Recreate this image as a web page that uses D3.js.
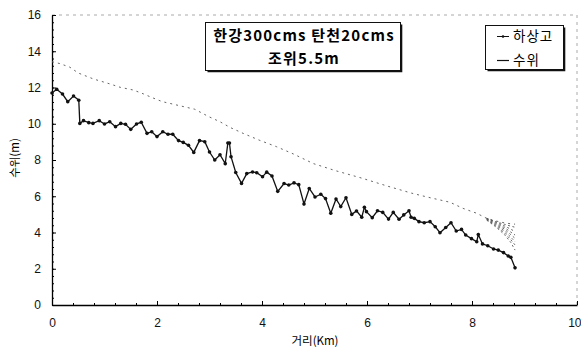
<!DOCTYPE html>
<html>
<head>
<meta charset="utf-8">
<script src="https://cdn.jsdelivr.net/npm/d3@7"></script>
<style>
  html, body { margin: 0; padding: 0; background: #fff; }
  svg { display: block; }
  .tick text { font-family: "Liberation Sans", Arial, sans-serif; font-size: 12px; fill: #111; }
</style>
</head>
<body>
<svg id="chart" width="581" height="349"></svg>
<script>
// Riverbed elevation (하상고) along the channel
const bedKm = [0, 0.09, 0.2, 0.3, 0.41, 0.51, 0.53, 0.6, 0.7, 0.78, 0.9, 1.0, 1.1, 1.21, 1.31, 1.4, 1.5, 1.61, 1.7, 1.81,
  1.9, 2.0, 2.11, 2.21, 2.3, 2.41, 2.5, 2.6, 2.7, 2.81, 2.91, 3.0, 3.1, 3.2, 3.3, 3.35, 3.38, 3.41, 3.5, 3.61,
  3.71, 3.82, 3.9, 4.01, 4.09, 4.19, 4.3, 4.42, 4.51, 4.61, 4.7, 4.8, 4.9, 5.01, 5.12, 5.21, 5.31, 5.41, 5.5, 5.6,
  5.71, 5.8, 5.9, 5.95, 5.99, 6.1, 6.2, 6.3, 6.41, 6.5, 6.61, 6.7, 6.8, 6.84, 6.9, 6.99, 7.09, 7.2, 7.3, 7.39,
  7.5, 7.6, 7.7, 7.8, 7.88, 7.99, 8.09, 8.12, 8.2, 8.3, 8.41, 8.5, 8.6, 8.69, 8.74, 8.82];
const bedLevel = [11.7, 11.9, 11.64, 11.22, 11.53, 11.3, 10.02, 10.17, 10.06, 10.02, 10.17, 9.99, 10.11, 9.84, 10.02, 9.97, 9.69, 9.99, 10.08, 9.47,
  9.56, 9.29, 9.56, 9.42, 9.42, 9.07, 8.97, 8.81, 8.42, 9.07, 9.01, 8.44, 8.0, 8.29, 7.8, 8.94, 8.94, 8.18, 7.31, 6.71,
  7.25, 7.34, 7.3, 7.08, 7.33, 7.12, 6.27, 6.7, 6.62, 6.74, 6.64, 5.57, 6.43, 5.96, 6.11, 5.87, 5.06, 5.85, 5.43, 5.92,
  5.0, 5.19, 4.84, 5.39, 5.15, 4.82, 5.2, 5.11, 4.74, 5.11, 4.73, 4.97, 5.2, 4.84, 4.78, 4.6, 4.54, 4.6, 4.32, 3.99,
  4.28, 4.54, 4.08, 4.17, 3.86, 3.66, 3.49, 3.89, 3.37, 3.27, 3.09, 3.03, 2.89, 2.7, 2.63, 2.05];

// Water surface profile (수위)
const wlKm = [0, 0.15, 0.34, 0.5, 0.79, 1.1, 1.3, 1.55, 1.74, 1.9, 2.1, 2.72, 2.98, 3.2, 3.39, 3.64, 3.96, 4.28, 4.6, 4.98,
  5.39, 5.9, 6.4, 6.85, 7.2, 7.58, 7.83, 8.09, 8.28, 8.45, 8.62, 8.74, 8.82];
const wlLevel = [13.42, 13.32, 13.12, 12.8, 12.47, 12.2, 12.01, 11.86, 11.65, 11.45, 11.22, 10.8, 10.4, 10.11, 9.8, 9.47, 9.08, 8.73, 8.33, 7.8,
  7.42, 7.0, 6.55, 6.17, 5.92, 5.67, 5.33, 5.06, 4.78, 4.64, 4.53, 4.48, 4.46];

// Tidal spread of the water surface near the downstream end
const tailKm = [8.28, 8.45, 8.62, 8.74, 8.82];
const tailLevels = [
  [4.78, 4.6, 4.45, 4.35, 4.29],
  [4.78, 4.57, 4.36, 4.18, 4.05],
  [4.76, 4.52, 4.27, 4.02, 3.86],
  [4.74, 4.47, 4.18, 3.88, 3.68],
  [4.72, 4.42, 4.08, 3.74, 3.49],
  [4.7, 4.37, 3.98, 3.6, 3.31],
  [4.68, 4.32, 3.88, 3.45, 3.03]
];

const xTicks = [0, 2, 4, 6, 8, 10];
const yTicks = [0, 2, 4, 6, 8, 10, 12, 14, 16];
const titleLines = ["한강300cms 탄천20cms", "조위5.5m"];
const legendLabels = ["하상고", "수위"];

const svg = d3.select("#chart");
const x = d3.scaleLinear().domain([0, 10]).range([52, 577]);
const y = d3.scaleLinear().domain([0, 16]).range([305, 15]);

// faint frame on top and right
svg.append("path")
  .attr("d", `M${x(0)},${y(16)}H${x(10)}V${y(0)}`)
  .attr("fill", "none").attr("stroke", "#aaa").attr("stroke-width", 1)
  .attr("stroke-dasharray", "3,4");

// minor ticks
svg.append("g").attr("transform", `translate(${x(0)},0)`)
  .call(d3.axisLeft(y).tickValues(d3.range(0, 16.01, 0.4)).tickSize(-2).tickSizeOuter(0).tickFormat(""))
  .call(g => g.select(".domain").remove());
svg.append("g").attr("transform", `translate(0,${y(0)})`)
  .call(d3.axisBottom(x).tickValues(d3.range(0, 10.01, 0.4)).tickSize(-2).tickSizeOuter(0).tickFormat(""))
  .call(g => g.select(".domain").remove());

// main axes
svg.append("g").attr("transform", `translate(${x(0)},0)`)
  .call(d3.axisLeft(y).tickValues(yTicks).tickSize(-4).tickSizeOuter(0).tickPadding(11).tickFormat(d3.format("d")))
  .call(g => g.select(".domain").attr("stroke-width", 1.3));
svg.append("g").attr("transform", `translate(0,${y(0)})`)
  .call(d3.axisBottom(x).tickValues(xTicks).tickSize(-4).tickSizeOuter(0).tickPadding(13).tickFormat(d3.format("d")))
  .call(g => g.select(".domain").attr("stroke-width", 1.3))
  // the last label sits at the page edge; keep it fully inside
  .call(g => g.selectAll(".tick text").filter(d => d === 10).attr("text-anchor", "end").attr("x", 4));

// axis titles
svg.append("text")
  .attr("transform", `translate(19,158) rotate(-90)`)
  .attr("text-anchor", "middle")
  .style("font-family", "'Noto Sans CJK KR', sans-serif").style("font-size", "11.5px")
  .text("수위(m)");
svg.append("text")
  .attr("x", 315).attr("y", 345)
  .attr("text-anchor", "middle")
  .style("font-family", "'Noto Sans CJK KR', sans-serif").style("font-size", "11.5px")
  .text("거리(Km)");

const line = d3.line().x(d => x(d[0])).y(d => y(d[1]));

// water surface
svg.append("path")
  .datum(wlKm.map((k, i) => [k, wlLevel[i]]))
  .attr("d", line)
  .attr("fill", "none").attr("stroke", "#666").attr("stroke-width", 1)
  .attr("stroke-dasharray", "2,4");
svg.append("g").selectAll("path")
  .data(tailLevels)
  .join("path")
  .attr("d", lv => line(tailKm.map((k, i) => [k, lv[i]])))
  .attr("fill", "none").attr("stroke", "#555").attr("stroke-width", 0.9)
  .attr("stroke-dasharray", "2,2.5");

// riverbed
const bed = bedKm.map((k, i) => [k, bedLevel[i]]);
svg.append("path")
  .datum(bed)
  .attr("d", line)
  .attr("fill", "none").attr("stroke", "#111").attr("stroke-width", 1.3);
svg.append("g").selectAll("circle")
  .data(bed)
  .join("circle")
  .attr("cx", d => x(d[0])).attr("cy", d => y(d[1]))
  .attr("r", 1.8).attr("fill", "#111");

// boxed annotation with a drop edge on right and bottom
function shadowBox(x0, y0, w, h) {
  svg.append("rect").attr("x", x0).attr("y", y0).attr("width", w).attr("height", h)
    .attr("fill", "#fff").attr("stroke", "#111").attr("stroke-width", 1);
  svg.append("path")
    .attr("d", `M${x0 + w + 1},${y0 + 2}V${y0 + h + 1}H${x0 + 2}`)
    .attr("fill", "none").attr("stroke", "#111").attr("stroke-width", 1.6);
}

shadowBox(205.5, 22.5, 195, 48);
svg.append("g").selectAll("text")
  .data(titleLines)
  .join("text")
  .attr("x", 304).attr("y", (d, i) => 41 + i * 23)
  .attr("text-anchor", "middle")
  .style("font-family", "'Noto Sans CJK KR', sans-serif")
  .style("font-weight", "bold").style("font-size", "15px")
  .style("letter-spacing", "1.2px")
  .text(d => d);

shadowBox(485.5, 25.5, 78, 44);
const leg = svg.append("g");
leg.selectAll("text")
  .data(legendLabels)
  .join("text")
  .attr("x", 513).attr("y", (d, i) => 41 + i * 24)
  .style("font-family", "'Noto Sans CJK KR', sans-serif").style("font-size", "13.5px")
  .style("letter-spacing", "1px")
  .text(d => d);
leg.append("line").attr("x1", 497).attr("x2", 509).attr("y1", 36.5).attr("y2", 36.5)
  .attr("stroke", "#111").attr("stroke-width", 1);
leg.append("circle").attr("cx", 503).attr("cy", 36.5).attr("r", 1.3).attr("fill", "#111");
leg.append("line").attr("x1", 497).attr("x2", 509).attr("y1", 60.5).attr("y2", 60.5)
  .attr("stroke", "#111").attr("stroke-width", 1.2);
</script>
</body>
</html>
